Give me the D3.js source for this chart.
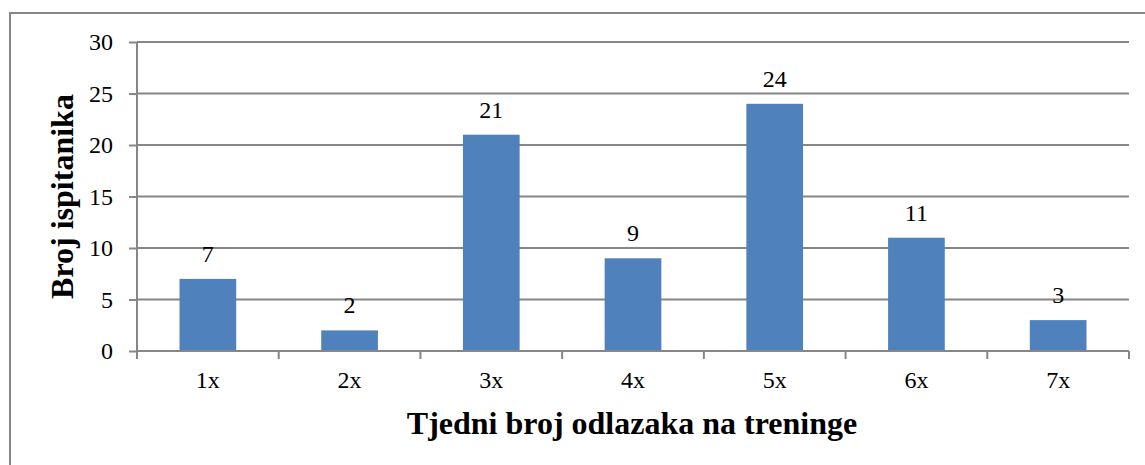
<!DOCTYPE html>
<html>
  <head>
    <meta charset="utf-8">
    <title>Tjedni broj odlazaka na treninge</title>
    <script src="https://d3js.org/d3.v7.min.js"></script>
    <style>
      body { margin: 0; background: #fff; }
    </style>
  </head>
  <body>
    <svg id="chart" width="1145" height="465"></svg>

    <script>
      var categories = ["1x", "2x", "3x", "4x", "5x", "6x", "7x"];
      var counts = [7, 2, 21, 9, 24, 11, 3];
      var yTicks = [0, 5, 10, 15, 20, 25, 30];
      var xTitle = "Tjedni broj odlazaka na treninge";
      var yTitle = "Broj ispitanika";

      drawChart();

      function drawChart() {
        var serif = "'Liberation Serif', 'Times New Roman', serif";
        var svg = d3.select("#chart");
        var pLeft = 137, pRight = 1129, pTop = 42, pBottom = 351;

        // outer chart border (cut off right and bottom like in the picture)
        svg.append("rect")
          .attr("x", 10).attr("y", 13)
          .attr("width", 1150).attr("height", 470)
          .style("fill", "none")
          .style("stroke", "#868686")
          .style("stroke-width", 2);

        var x = d3.scaleBand().domain(categories).range([pLeft, pRight]).paddingInner(0.6).paddingOuter(0.3);
        var xOuter = d3.scaleBand().domain(categories).range([pLeft, pRight]);
        var y = d3.scaleLinear().domain([0, 30]).range([pBottom, pTop]);

        // gridlines
        svg.append("g")
          .selectAll("line")
          .data(yTicks.slice(1))
          .enter()
          .append("line")
          .attr("x1", pLeft).attr("x2", pRight)
          .attr("y1", d => y(d)).attr("y2", d => y(d))
          .style("stroke", "#868686")
          .style("stroke-width", 2);

        // bars
        svg.append("g")
          .selectAll("rect")
          .data(counts)
          .enter()
          .append("rect")
          .attr("x", (d, i) => x(categories[i]))
          .attr("width", x.bandwidth())
          .attr("y", d => y(d))
          .attr("height", d => y(0) - y(d))
          .style("fill", "#4F81BD");

        // data labels
        svg.append("g")
          .selectAll("text")
          .data(counts)
          .enter()
          .append("text")
          .attr("x", (d, i) => x(categories[i]) + x.bandwidth() / 2)
          .attr("y", d => y(d) - 17)
          .attr("text-anchor", "middle")
          .style("font-family", serif)
          .style("font-size", "24px")
          .style("fill", "#000")
          .text(d => d);

        // y axis
        var yAxis = svg.append("g")
          .attr("transform", "translate(" + pLeft + ",0)")
          .call(d3.axisLeft(y).tickValues(yTicks).tickSize(8).tickPadding(16));
        yAxis.attr("font-family", null).attr("font-size", null);
        yAxis.selectAll("line, path").style("stroke", "#868686").style("stroke-width", 2);
        yAxis.select("path").attr("d", "M0," + pTop + "V" + pBottom);
        yAxis.selectAll("text")
          .style("font-size", "24px")
          .style("font-family", serif)
          .style("fill", "#000");

        // x axis
        var xAxis = svg.append("g")
          .attr("transform", "translate(0," + pBottom + ")")
          .call(d3.axisBottom(xOuter).tickSize(0).tickPadding(20));
        xAxis.attr("font-family", null).attr("font-size", null);
        xAxis.select("path").attr("d", "M" + pLeft + ",0H" + pRight)
          .style("stroke", "#868686").style("stroke-width", 2);
        xAxis.selectAll("text")
          .style("font-size", "24px")
          .style("font-family", serif)
          .style("fill", "#000");
        // tick marks between categories
        xAxis.append("g")
          .selectAll("line")
          .data(d3.range(categories.length + 1))
          .enter()
          .append("line")
          .attr("x1", i => pLeft + i * xOuter.step())
          .attr("x2", i => pLeft + i * xOuter.step())
          .attr("y1", 0).attr("y2", 8)
          .style("stroke", "#868686")
          .style("stroke-width", 2);

        // axis titles
        svg.append("text")
          .attr("x", 632)
          .attr("y", 434)
          .attr("text-anchor", "middle")
          .style("font-family", serif)
          .style("font-size", "32px")
          .style("font-weight", "bold")
          .text(xTitle);

        svg.append("text")
          .attr("transform", "translate(73," + ((pTop + pBottom) / 2) + ") rotate(-90)")
          .attr("text-anchor", "middle")
          .style("font-family", serif)
          .style("font-size", "32px")
          .style("font-weight", "bold")
          .text(yTitle);
      }
    </script>
  </body>
</html>
